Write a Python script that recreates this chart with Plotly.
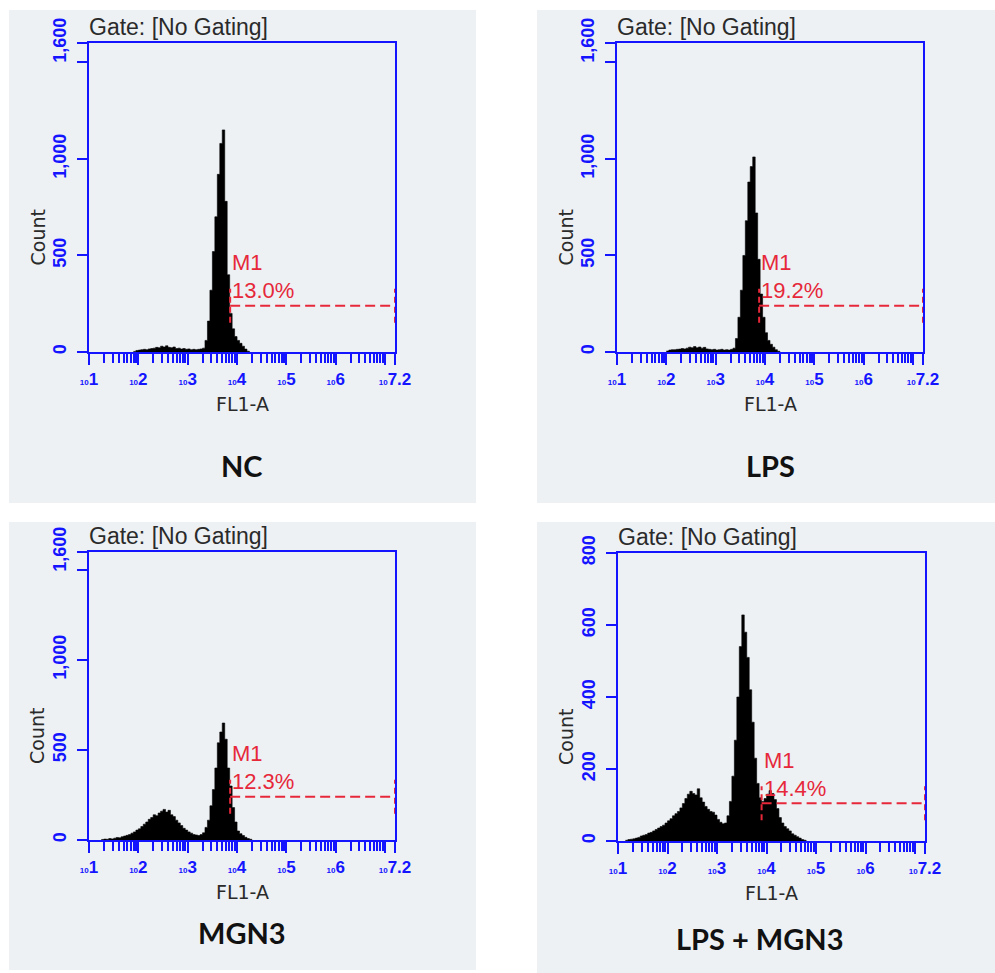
import numpy as np
import plotly.graph_objects as go

W, H = 995, 973

# ---------------- data (histogram counts per 0.05-decade bin of FL1-A) ----------------
BIN_WIDTH = 0.05  # decades (log10 units)

panel_names = ["NC", "LPS", "MGN3", "LPS + MGN3"]
m1_percent = ["13.0%", "19.2%", "12.3%", "14.4%"]
m1_start_log = [3.86, 3.88, 3.86, 3.90]      # log10 of M1 gate start
m1_level = [240, 240, 240, 105]               # count level of gate marker
y_max = [1600, 1600, 1600, 800]
y_tickvals_1600 = [0, 500, 1000, 1500, 1600]
y_ticktext_1600 = ["0", "500", "1,000", "", "1,600"]
y_tickvals_800 = [0, 200, 400, 600, 800]
y_ticktext_800 = ["0", "200", "400", "600", "800"]
x_decades = [1, 2, 3, 4, 5, 6, 7, 7.2]
x_exp_labels = ["1", "2", "3", "4", "5", "6", "", "7.2"]

nc_start = 1.90
nc_counts = [3, 8, 10, 12, 14, 12, 16, 18, 20, 24, 22, 30, 26, 32, 24, 22, 26, 18, 20, 15,
             18, 14, 16, 12, 14, 12, 14, 16, 20, 60, 160, 320, 520, 700, 920, 1080, 1150, 780,
             400, 200, 120, 80, 60, 45, 30, 15, 4]

lps_start = 2.00
lps_counts = [5, 10, 12, 12, 14, 15, 18, 16, 20, 25, 22, 28, 22, 26, 20, 24, 16, 14, 12, 14,
              10, 12, 14, 10, 12, 10, 14, 20, 70, 180, 320, 500, 680, 880, 960, 1010, 720, 480,
              300, 180, 100, 60, 40, 25, 12, 4]

mgn3_start = 1.25
mgn3_counts = [3, 5, 4, 8, 6, 10, 14, 12, 18, 22, 26, 30, 38, 45, 55, 62, 75, 88, 100, 115,
               125, 140, 135, 150, 160, 170, 155, 165, 140, 130, 110, 95, 80, 65, 55, 45, 38, 30,
               28, 25, 30, 40, 70, 110, 190, 280, 400, 540, 600, 650, 560, 400, 300, 180, 100, 50,
               35, 25, 15, 8, 4]

lps_mgn3_start = 1.15
lps_mgn3_counts = [2, 4, 5, 6, 8, 10, 14, 16, 18, 22, 24, 28, 32, 36, 40, 44, 50, 56, 62, 70,
                   76, 82, 92, 104, 118, 130, 138, 132, 128, 145, 120, 108, 96, 88, 82, 80, 72,
                   60, 52, 48, 50, 70, 110, 180, 280, 400, 540, 628, 580, 510, 420, 330, 230, 160,
                   120, 110, 118, 130, 140, 132, 115, 90, 65, 50, 40, 34, 28, 20, 16, 12, 8, 4, 2]

starts = [nc_start, lps_start, mgn3_start, lps_mgn3_start]
counts = [nc_counts, lps_counts, mgn3_counts, lps_mgn3_counts]

# ---------------- layout geometry (pixels) ----------------
# plot boxes: (left, right, top, bottom)
boxes = [(89, 395, 43, 352), (617, 923, 43, 352), (89, 395, 552, 840), (618, 925, 553, 841)]
# panel backgrounds: (left, top, right, bottom)
panel_bg = [(9, 10, 476, 503), (537, 10, 995, 503), (9, 522, 476, 970), (537, 522, 995, 973)]
# panel caption offsets (dx, dy below plot bottom)
caption_pos = [(0, 114), (0, 114), (0, 92), (-12, 97)]

BLUE = "#1414ff"
RED = "#e6283a"
BG = "#edf1f4"


def fx(p):
    return p / W


def fy(p):
    return 1 - p / H


fig = go.Figure()
layout = dict(
    template="none",
    width=W, height=H, margin=dict(l=0, r=0, t=0, b=0, autoexpand=False),
    paper_bgcolor="white", plot_bgcolor="white", showlegend=False,
    shapes=[], annotations=[],
)

minor_vals = [k * 10 ** n for n in range(1, 7) for k in range(2, 10)]
x_tickvals = [10 ** d for d in x_decades]
x_ticktext = [
    ("<span style='font-size:8px'>10</span>" + e) if e else "" for e in x_exp_labels
]

for i in range(4):
    k = "" if i == 0 else str(i + 1)
    left, right, top, bottom = boxes[i]
    edges = starts[i] + BIN_WIDTH * np.arange(len(counts[i]) + 1)
    fig.add_trace(go.Scatter(
        x=10 ** edges, y=list(counts[i]) + [0], mode="lines",
        line=dict(shape="hv", width=0.6, color="black"),
        fill="tozeroy", fillcolor="black", hoverinfo="skip",
        xaxis="x" + k, yaxis="y" + k,
    ))
    if y_max[i] == 1600:
        yv, yt = y_tickvals_1600, y_ticktext_1600
    else:
        yv, yt = y_tickvals_800, y_ticktext_800
    layout["xaxis" + k] = dict(
        type="log", range=[1, 7.2], domain=[fx(left), fx(right)], anchor="y" + k,
        automargin=False,
        showline=True, linecolor=BLUE, linewidth=2, mirror=True,
        ticks="outside", ticklen=11, tickwidth=2, tickcolor=BLUE,
        tickmode="array", tickvals=x_tickvals, ticktext=x_ticktext, tickangle=0,
        tickfont=dict(family="Liberation Sans", size=17, color=BLUE, weight="bold"),
        showgrid=False, zeroline=False,
        minor=dict(tickmode="array", tickvals=minor_vals, ticks="outside", ticklen=9,
                   tickwidth=2, tickcolor=BLUE, showgrid=False),
    )
    layout["yaxis" + k] = dict(
        range=[0, y_max[i]], domain=[fy(bottom), fy(top)], anchor="x" + k,
        automargin=False,
        showline=True, linecolor=BLUE, linewidth=2, mirror=True,
        ticks="outside", ticklen=10, tickwidth=2, tickcolor=BLUE,
        tickmode="array", tickvals=yv, ticktext=yt, tickangle=-90,
        tickfont=dict(family="Liberation Sans", size=18, color=BLUE, weight="bold"),
        ticklabelstandoff=4, showgrid=False, zeroline=False,
    )
    # panel background
    bl, bt, br, bb = panel_bg[i]
    layout["shapes"].append(dict(
        type="rect", xref="paper", yref="paper", x0=fx(bl), x1=fx(br), y0=fy(bb), y1=fy(bt),
        fillcolor=BG, line=dict(width=0), layer="below"))
    # M1 gate marker
    gx0 = 10 ** m1_start_log[i]
    gx1 = 10 ** 7.2
    lvl = m1_level[i]
    layout["shapes"].append(dict(
        type="line", xref="x" + k, yref="y" + k, x0=gx0, x1=gx1, y0=lvl, y1=lvl,
        line=dict(color=RED, width=2, dash="10px,5px")))
    for gx in (gx0, gx1):
        layout["shapes"].append(dict(
            type="line", xref="x" + k, yref="y" + k, x0=gx, x1=gx,
            ysizemode="pixel", yanchor=lvl, y0=-17, y1=17,
            line=dict(color=RED, width=2, dash="6px,4px")))
    cdx, cdy = caption_pos[i]
    layout["annotations"] += [
        dict(text="M1", xref="x" + k, yref="y" + k, x=m1_start_log[i], y=lvl,
             xanchor="left", yanchor="middle", xshift=0, yshift=43, showarrow=False,
             font=dict(family="Liberation Sans", size=22, color=RED)),
        dict(text=m1_percent[i], xref="x" + k, yref="y" + k, x=m1_start_log[i], y=lvl,
             xanchor="left", yanchor="middle", xshift=0, yshift=15, showarrow=False,
             font=dict(family="Liberation Sans", size=22, color=RED)),
        dict(text="Gate: [No Gating]", xref="paper", yref="paper", x=fx(left - 2), y=fy(top - 16),
             xanchor="left", yanchor="middle", showarrow=False,
             font=dict(family="Liberation Sans", size=23, color="#2a2a2a")),
        dict(text="FL1-A", xref="paper", yref="paper", x=fx((left + right) / 2),
             y=fy(bottom + 52), xanchor="center", yanchor="middle", showarrow=False,
             font=dict(family="DejaVu Sans", size=19, color="#2a2a2a")),
        dict(text="Count", xref="paper", yref="paper", x=fx(left - 52),
             y=fy((top + bottom) / 2 + 40), xanchor="center", yanchor="middle",
             textangle=-90, showarrow=False,
             font=dict(family="DejaVu Sans", size=19, color="#2a2a2a")),
        dict(text=panel_names[i], xref="paper", yref="paper", x=fx((left + right) / 2 + cdx),
             y=fy(bottom + cdy), xanchor="center", yanchor="middle",
             showarrow=False,
             font=dict(family="Lato", size=29, color="#111111", weight="bold")),
    ]

fig.update_layout(**layout)
fig.write_html("out.html")
